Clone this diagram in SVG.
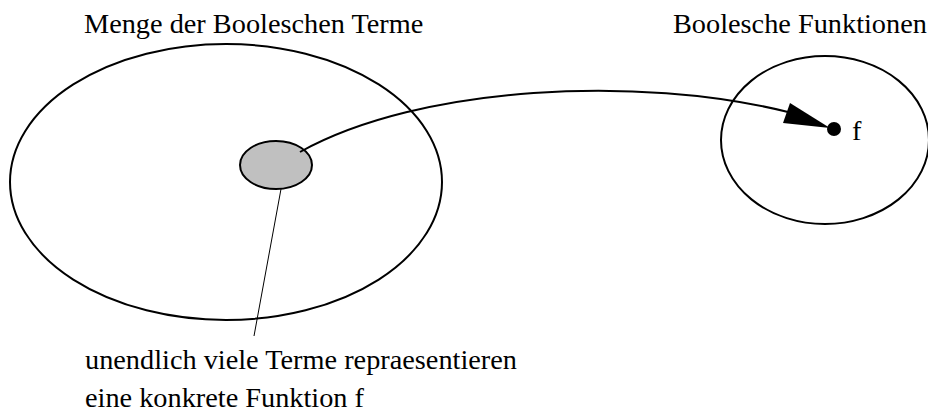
<svg xmlns="http://www.w3.org/2000/svg" width="928" height="410" viewBox="0 0 928 410">
<style>
text{font-family:"Liberation Serif","Times New Roman",serif;font-size:28.3px;fill:#000}
.o{fill:none;stroke:#000;stroke-width:2}
</style>
<rect width="928" height="410" fill="#fff"/>
<g id="terme">
<ellipse class="o" cx="226" cy="182" rx="216" ry="138"/>
<text x="84" y="33">Menge der Booleschen Terme</text>
</g>
<g id="klasse">
<ellipse cx="276" cy="165" rx="36" ry="24" fill="#c0c0c0" stroke="#000" stroke-width="2"/>
</g>
<g id="funktionen">
<ellipse class="o" cx="825" cy="140" rx="104" ry="84"/>
<text x="673" y="33">Boolesche Funktionen</text>
</g>
<g id="f">
<circle cx="834" cy="129" r="7" fill="#000"/>
<text x="852" y="140">f</text>
</g>
<g id="label">
<text x="85" y="369">unendlich viele Terme repraesentieren</text>
<text x="85" y="407">eine konkrete Funktion f</text>
</g>
<g id="connectors">
<path class="o" d="M300,152 C420,85 640,75 788,112"/>
<polygon points="830,128 790,103 783,123" fill="#000"/>
<line x1="281" y1="189" x2="254" y2="336" stroke="#000" stroke-width="1"/>
</g>
</svg>
